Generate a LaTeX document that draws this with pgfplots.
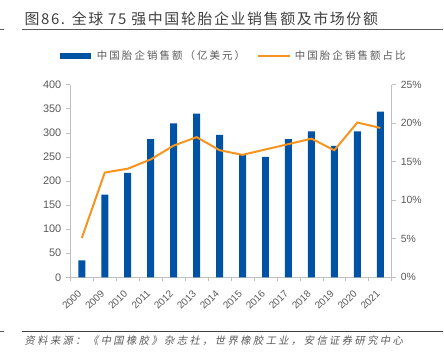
\documentclass[border=0pt]{standalone}
\usepackage{fontspec}
\setmainfont{Liberation Sans}
\usepackage{graphicx}
\newfontfamily\cjk{Noto Sans CJK SC}
\newfontfamily\cjktitle[LetterSpace=11]{Noto Sans CJK SC}
\newfontfamily\cjkleg[LetterSpace=20]{Noto Sans CJK SC}
\newfontfamily\cjkit[FakeSlant=0.2,LetterSpace=24]{Noto Sans CJK SC}
\usepackage{pgfplots}
\pgfplotsset{compat=1.18}
\definecolor{barblue}{RGB}{0,82,165}
\definecolor{lineorange}{RGB}{247,148,29}
\definecolor{axisgray}{RGB}{191,191,191}
\definecolor{txtgray}{RGB}{89,89,89}
\definecolor{titlegray}{RGB}{64,64,64}
\newcommand\rl[1]{\rotatebox{45}{#1}}
\begin{document}
\begin{tikzpicture}
\path (0bp,0bp) rectangle (444bp,364bp);
% title
\node[anchor=base west,inner sep=0,text=titlegray,font=\cjktitle\fontsize{15}{15}\selectfont] at (24bp,339bp) {图86. 全球 75 强中国轮胎企业销售额及市场份额};
\draw[line width=1.3bp,color=txtgray] (22bp,334.7bp) -- (444bp,334.7bp);
\draw[line width=1bp,color=txtgray] (0bp,334.7bp) -- (4bp,334.7bp);
% legend
\draw[line width=5.5bp,color=barblue] (60bp,308bp) -- (91bp,308bp);
\node[anchor=west,inner sep=0,text=txtgray,font=\cjkleg\fontsize{10.5}{11}\selectfont] at (96.5bp,308bp) {中国胎企销售额（亿美元）};
\draw[line width=2bp,color=lineorange] (258bp,308bp) -- (290bp,308bp);
\node[anchor=west,inner sep=0,text=txtgray,font=\cjkleg\fontsize{10.5}{11}\selectfont] at (295bp,308bp) {中国胎企销售额占比};
% source
\draw[line width=1.3bp,color=titlegray] (22bp,31.3bp) -- (444bp,31.3bp);
\draw[line width=1bp,color=txtgray] (0bp,31.3bp) -- (4bp,31.3bp);
\node[anchor=west,inner sep=0,text=txtgray,font=\cjkit\fontsize{10.3}{10}\selectfont] at (24bp,22bp) {资料来源：《中国橡胶》杂志社，世界橡胶工业，安信证券研究中心};
\begin{axis}[
  at={(70bp,86bp)}, anchor=south west,
  scale only axis, width=322.3bp, height=193bp,
  xmin=-0.5, xmax=13.5, ymin=0, ymax=400,
  axis x line*=bottom, axis y line*=left,
  axis line style={color=axisgray,line width=0.8bp},
  xtick={0,...,13},
  xticklabels={\rl{2000},\rl{2009},\rl{2010},\rl{2011},\rl{2012},\rl{2013},\rl{2014},\rl{2015},\rl{2016},\rl{2017},\rl{2018},\rl{2019},\rl{2020},\rl{2021}},
  minor xtick={-0.5,0.5,...,13.5},
  major x tick style={draw=none},
  minor tick length=4bp,
  major tick length=4bp,
  tick align=outside,
  tick style={color=axisgray,line width=0.8bp},
  ytick={0,50,...,400},
  xticklabel style={anchor=north east,inner sep=1bp,font=\fontsize{10}{10}\selectfont,text=txtgray,xshift=1.5bp,yshift=-7bp},
  yticklabel style={font=\fontsize{11}{11}\selectfont,text=txtgray,xshift=-1.5bp},
  /pgf/number format/assume math mode=true,
  clip=false,
]
\addplot[ybar, bar width=7bp, fill=barblue, draw=none] coordinates {
(0,35) (1,172) (2,217) (3,287) (4,320) (5,340) (6,296) (7,255) (8,250) (9,287) (10,303) (11,273) (12,303) (13,344)};
\end{axis}
\begin{axis}[
  at={(70bp,86bp)}, anchor=south west,
  scale only axis, width=322.3bp, height=193bp,
  xmin=-0.5, xmax=13.5, ymin=0, ymax=25,
  axis x line=none, axis y line*=right,
  axis line style={color=axisgray,line width=0.8bp},
  ytick={0,5,...,25},
  yticklabel={\pgfmathprintnumber{\tick}\%},
  tick align=outside, major tick length=4bp,
  tick style={color=axisgray,line width=0.8bp},
  yticklabel style={font=\fontsize{10.5}{11}\selectfont,text=txtgray,xshift=1.5bp},
  /pgf/number format/assume math mode=true,
]
\addplot[color=lineorange, line width=2bp, mark=none] coordinates {
(0,5.1) (1,13.6) (2,14.1) (3,15.3) (4,17.1) (5,18.2) (6,16.5) (7,15.9) (8,16.6) (9,17.3) (10,18.0) (11,16.5) (12,20.1) (13,19.4)};
\end{axis}
\end{tikzpicture}
\end{document}
